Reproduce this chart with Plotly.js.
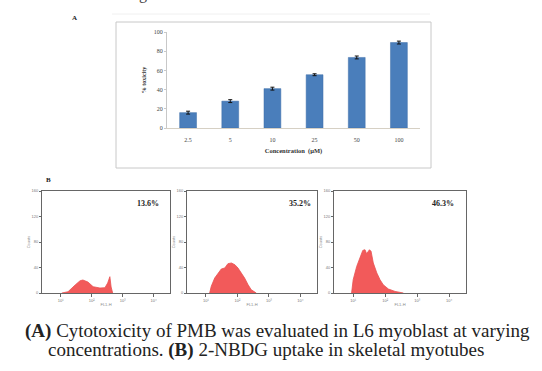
<!DOCTYPE html>
<html>
<head>
<meta charset="utf-8">
<script src="https://cdn.plot.ly/plotly-3.0.1.min.js"></script>
<style>html,body{margin:0;padding:0;background:#fff;}#chart{width:542px;height:371px;}</style>
</head>
<body>
<div id="chart"></div>
<script>
// ---- Panel A data ----
const concentrations = ["2.5", "5", "10", "25", "50", "100"];
const toxicity = [16, 28, 41, 55.5, 73.5, 89];
const toxicityErr = [1.5, 1.5, 1.5, 1, 1.5, 1.5];

// ---- Panel B data (log fluorescence decades vs counts) ----
const hist1X = [0.64, 0.84, 1.07, 1.23, 1.32, 1.48, 1.65, 1.87, 2.03, 2.12, 2.19, 2.23, 2.28];
const hist1Y = [0, 2, 12.6, 19.3, 20.4, 17.3, 9.9, 7.8, 8.3, 15.7, 25.6, 9.4, 0];
const hist2X = [0.72, 0.77, 0.88, 0.99, 1.09, 1.20, 1.30, 1.41, 1.52, 1.62, 1.73, 1.83, 1.94, 2.04, 2.20];
const hist2Y = [0, 10.4, 23.5, 31.4, 37.7, 39.2, 46, 47.1, 44.4, 39.2, 31.4, 23.5, 13, 5.2, 0];
const hist3X = [0.55, 0.60, 0.71, 0.81, 0.90, 0.97, 1.02, 1.11, 1.16, 1.23, 1.34, 1.44, 1.54, 1.70, 1.91, 2.17];
const hist3Y = [0, 20.9, 41.7, 54.9, 66.8, 67.9, 61.7, 67.9, 65.3, 47.1, 31.4, 20.9, 13, 6.3, 2.5, 0];
const histLabels = ["13.6%", "35.2%", "46.3%"];
const histTickVals = [0.6, 1.6, 2.6, 3.6];
const histTickText = ["10\u00b9", "10\u00b2", "10\u00b3", "10\u2074"];
const countTicks = [0, 40, 80, 120, 160];

const W = 542, H = 371;
const px = x => x / W;
const py = y => 1 - y / H;

const redFill = "rgba(242,90,90,1)";

const traces = [
  {
    type: "bar", x: concentrations, y: toxicity, xaxis: "x", yaxis: "y",
    marker: {color: "#4a7ebb", line: {color: "#3f6fa8", width: 0.5}},
    error_y: {type: "data", array: toxicityErr, visible: true, color: "#111", thickness: 1, width: 2}
  },
  {type: "scatter", mode: "lines", x: hist1X, y: hist1Y, xaxis: "x2", yaxis: "y2",
   fill: "tozeroy", fillcolor: redFill, line: {color: "#e85050", width: 0.8}},
  {type: "scatter", mode: "lines", x: hist2X, y: hist2Y, xaxis: "x3", yaxis: "y3",
   fill: "tozeroy", fillcolor: redFill, line: {color: "#e85050", width: 0.8}},
  {type: "scatter", mode: "lines", x: hist3X, y: hist3Y, xaxis: "x4", yaxis: "y4",
   fill: "tozeroy", fillcolor: redFill, line: {color: "#e85050", width: 0.8}}
];

function histX(domain) {
  return {
    domain: domain, range: [0, 4.13], showgrid: false, zeroline: false,
    showline: true, mirror: true, linecolor: "#666", linewidth: 1,
    tickvals: histTickVals, ticktext: histTickText, ticks: "outside", ticklen: 3, tickcolor: "#666",
    tickfont: {family: "Liberation Sans", size: 4, color: "#777"},
    title: {text: "FL1-H", font: {family: "Liberation Sans", size: 4, color: "#888"}, standoff: 1}
  };
}
function histY(anchor) {
  return {
    domain: [py(293), py(191)], range: [0, 160], anchor: anchor, showgrid: false, zeroline: false,
    showline: true, mirror: true, linecolor: "#666", linewidth: 1,
    tickvals: countTicks, ticks: "outside", ticklen: 2, tickcolor: "#666",
    tickfont: {family: "Liberation Sans", size: 4, color: "#777"},
    title: {text: "Counts", font: {family: "Liberation Sans", size: 4, color: "#888"}, standoff: 1}
  };
}

function label(text, x, y, size, extra) {
  return Object.assign({text: text, xref: "paper", yref: "paper", x: px(x), y: py(y),
    xanchor: "center", yanchor: "middle", showarrow: false,
    font: {family: "Liberation Serif", size: size, color: "#222"}}, extra || {});
}

const layout = {
  width: W, height: H,
  margin: {l: 0, r: 0, t: 0, b: 0},
  paper_bgcolor: "#fff", plot_bgcolor: "rgba(0,0,0,0)",
  showlegend: false,
  bargap: 0.6,
  xaxis: {
    domain: [px(167), px(420)], anchor: "y", type: "category",
    showgrid: false, zeroline: false, showline: true, linecolor: "#d6d0c4", linewidth: 1,
    ticks: "", ticklabelstandoff: 6, tickfont: {family: "Liberation Serif", size: 6, color: "#444"},
    title: {text: "<b>Concentration  (\u00b5M)</b>", font: {family: "Liberation Serif", size: 6.5, color: "#333"}, standoff: 6}
  },
  yaxis: {
    domain: [py(128), py(32)], anchor: "x", range: [0, 100], dtick: 20,
    showgrid: false, zeroline: false, showline: true, linecolor: "#c8c8c8", linewidth: 1,
    ticks: "outside", ticklen: 2, tickcolor: "#c8c8c8",
    tickfont: {family: "Liberation Serif", size: 6, color: "#444"},
    title: {text: "<b>% toxicity</b>", font: {family: "Liberation Serif", size: 6, color: "#333"}, standoff: 6}
  },
  xaxis2: Object.assign(histX([px(42), px(170)]), {anchor: "y2"}),
  yaxis2: histY("x2"),
  xaxis3: Object.assign(histX([px(187), px(317)]), {anchor: "y3"}),
  yaxis3: histY("x3"),
  xaxis4: Object.assign(histX([px(334), px(466)]), {anchor: "y4"}),
  yaxis4: histY("x4"),
  shapes: [
    {type: "rect", xref: "paper", yref: "paper", x0: px(116), x1: px(431), y0: py(168), y1: py(22),
     line: {color: "#c8c8c8", width: 1}},
    {type: "line", xref: "paper", yref: "paper", x0: px(112), x1: px(430), y0: py(14), y1: py(14),
     line: {color: "#f0f0f0", width: 1}}
  ],
  annotations: [
    label("g", 143, -6, 16, {font: {family: "Liberation Serif", size: 16, color: "#444"}}),
    label("<b>A</b>", 74, 18, 7),
    label("<b>B</b>", 48, 180, 7),
    label("<b>" + histLabels[0] + "</b>", 148, 203, 8),
    label("<b>" + histLabels[1] + "</b>", 300, 203, 8),
    label("<b>" + histLabels[2] + "</b>", 443, 203, 8),
    label("<b>(A)</b> Cytotoxicity of PMB was evaluated in L6 myoblast at varying", 23, 331, 19, {xanchor: "left"}),
    label("concentrations. <b>(B)</b> 2-NBDG uptake in skeletal myotubes", 46, 350, 19, {xanchor: "left"})
  ]
};

Plotly.newPlot("chart", traces, layout, {displayModeBar: false, staticPlot: true});
</script>
</body>
</html>
